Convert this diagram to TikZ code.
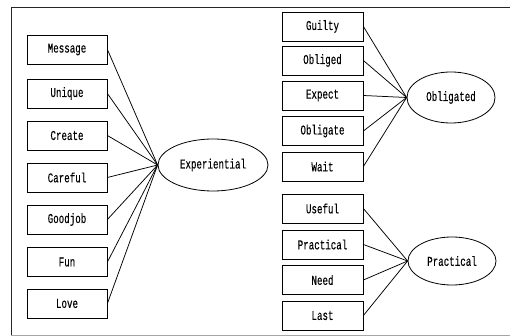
\documentclass[tikz,border=0pt]{standalone}
\usepackage{fontspec}
\newfontfamily\narmono[FakeStretch=0.68,FakeBold=0.2]{Liberation Mono}
\usetikzlibrary{shapes.geometric}
\begin{document}
\begin{tikzpicture}[x=1pt,y=-1pt,
  itembox/.style={draw=black,line width=0.8pt,minimum width=80pt,minimum height=29pt,inner sep=0pt,font=\narmono\fontsize{13.5}{14}\selectfont},
  factor/.style={draw=black,line width=0.8pt,ellipse,inner sep=0pt,font=\narmono\fontsize{13.5}{14}\selectfont},
  link/.style={line width=0.75pt,black}]
\useasboundingbox (0,0) rectangle (510,336);
\fill[white] (0,0) rectangle (510,336);
\draw[line width=0.9pt,black!85] (11,335) -- (11,7) -- (511,7);
\draw[line width=0.9pt,black!35] (11,335) -- (511,335);
% left column
\node[itembox] (mes) at (67,49.5) {Message};
\node[itembox] (uni) at (67,93.5) {Unique};
\node[itembox] (cre) at (67,135.5) {Create};
\node[itembox] (car) at (67,177.5) {Careful};
\node[itembox] (goo) at (67,219.5) {Goodjob};
\node[itembox] (fun) at (67,262) {Fun};
\node[itembox] (lov) at (67,303.5) {Love};
\node[factor,minimum width=110pt,minimum height=52pt] (exp) at (213,165) {Experiential};
\foreach \n in {mes,uni,cre,car,goo,fun,lov} \draw[link] (\n.east) -- (exp.west);
% right column top
\node[itembox,minimum width=81pt] (gui) at (322.5,26.5) {Guilty};
\node[itembox,minimum width=81pt] (obd) at (322.5,60.5) {Obliged};
\node[itembox,minimum width=81pt] (exc) at (322.5,95.5) {Expect};
\node[itembox,minimum width=81pt] (obe) at (322.5,131) {Obligate};
\node[itembox,minimum width=81pt] (wai) at (322.5,166.5) {Wait};
\node[factor,minimum width=88pt,minimum height=51pt] (obl) at (451,97.5) {Obligated};
\foreach \n in {gui,obd,exc,obe,wai} \draw[link] (\n.east) -- (obl.west);
% right column bottom
\node[itembox,minimum width=81pt] (use) at (322.5,208.5) {Useful};
\node[itembox,minimum width=81pt] (pra) at (322.5,244.5) {Practical};
\node[itembox,minimum width=81pt] (nee) at (322.5,280) {Need};
\node[itembox,minimum width=81pt] (las) at (322.5,315.5) {Last};
\node[factor,minimum width=88pt,minimum height=48pt] (prf) at (452,261) {Practical};
\foreach \n in {use,pra,nee,las} \draw[link] (\n.east) -- (prf.west);
\end{tikzpicture}
\end{document}
